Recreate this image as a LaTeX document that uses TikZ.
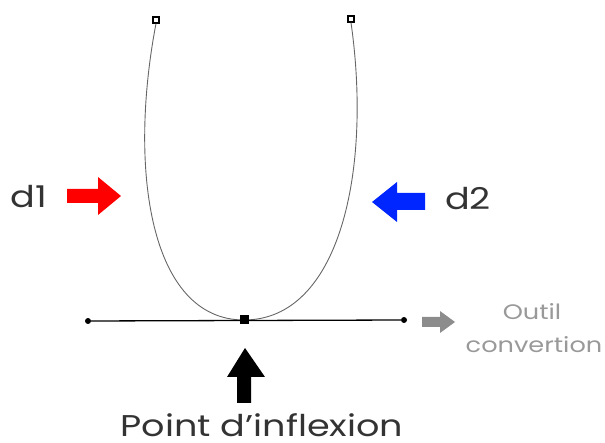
\documentclass[tikz,border=0pt]{standalone}
\usepackage{fontspec}
\setmainfont{Poppins}
\newcommand{\widetext}[1]{\scalebox{1.22}[1]{#1}}
\begin{document}
\begin{tikzpicture}[x=1pt,y=-1pt,
  handle/.style={draw=black,fill=white,line width=1.2pt,minimum size=6pt,inner sep=0pt,rectangle},
  anchorpt/.style={fill=black,minimum size=9pt,inner sep=0pt,rectangle},
  endpt/.style={fill=black,circle,minimum size=6pt,inner sep=0pt},
  curve/.style={draw=black!60,line width=0.9pt},
  lbl/.style={text=black!80,font=\fontsize{30}{34}\selectfont,inner sep=0pt},
  gray lbl/.style={text=black!40,font=\fontsize{21}{27}\selectfont,inner sep=0pt,align=center}]
\useasboundingbox (0,0) rectangle (605,443);
% points
\node[handle] (h1) at (156,20) {};
\node[handle] (h2) at (351,19) {};
\coordinate (p) at (244,320);
\node[endpt] (e1) at (88,321) {};
\node[endpt] (e2) at (404,320) {};
% curve
\draw[curve] (h1.south) .. controls (128,170) and (150,320) .. (p);
\draw[curve] (h2.south) .. controls (372,170) and (340,320) .. (p);
% tangent line
\draw[line width=1.3pt] (e1) -- (e2);
\node[anchorpt] (pt) at (p) {};
% red arrow
\fill[red] (67,189) -- (98,189) -- (98,177) -- (121,196) -- (98,215) -- (98,203) -- (67,203) -- cycle;
% blue arrow
\fill[blue!85!cyan] (425,193) -- (397,193) -- (397,182) -- (372,202) -- (397,222) -- (397,210) -- (425,210) -- cycle;
% gray arrow
\fill[black!45] (422,317) -- (440,317) -- (440,311) -- (455,322) -- (440,333) -- (440,327) -- (422,327) -- cycle;
% black arrow
\fill[black] (237,403) -- (237,377) -- (227,377) -- (245,348) -- (265,377) -- (251,377) -- (251,403) -- cycle;
% labels
\node[lbl,anchor=base] (d1) at (29,208) {\widetext{d1}};
\node[lbl,anchor=base] (d2) at (468,210) {\widetext{d2}};
\node[gray lbl,anchor=base] (outil) at (532,320) {\widetext{Outil}};
\node[gray lbl,anchor=base] (conv) at (534,353) {\widetext{convertion}};
\node[lbl,anchor=base] (pi) at (262,436) {\widetext{Point d’inflexion}};
\end{tikzpicture}
\end{document}
